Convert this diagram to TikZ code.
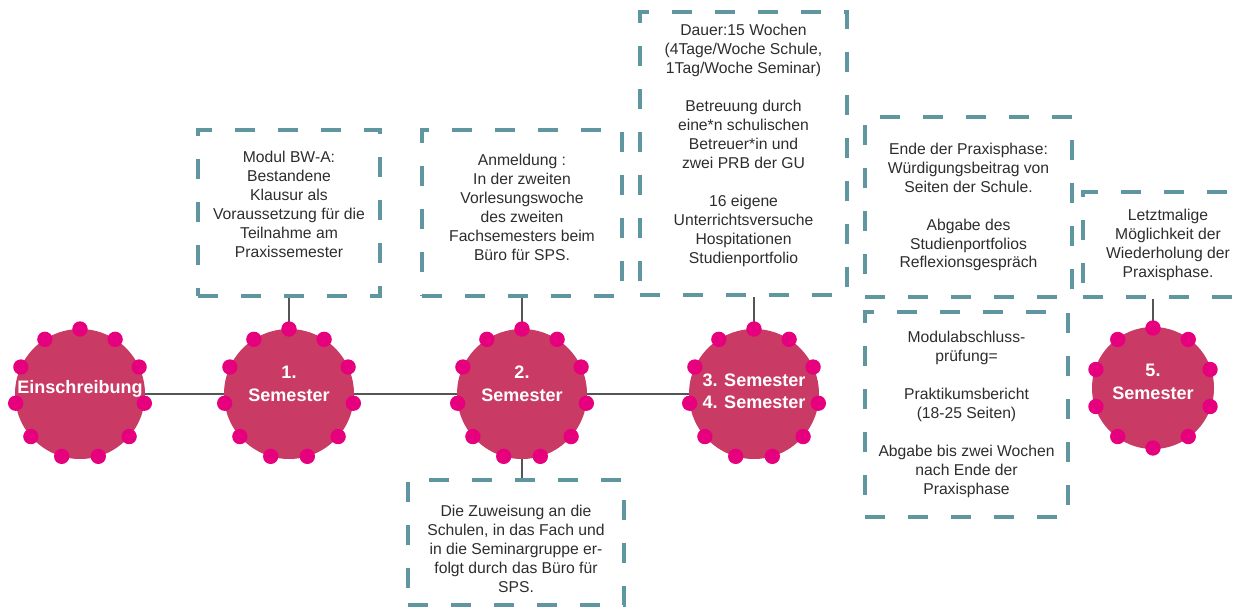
\documentclass[tikz,border=0pt]{standalone}
\usepackage{fontspec}
\setmainfont{Liberation Sans}
\usetikzlibrary{positioning}
\definecolor{semred}{RGB}{201,58,100}
\definecolor{dotpink}{RGB}{230,0,126}
\definecolor{infoteal}{RGB}{96,150,160}
\definecolor{linegray}{RGB}{85,85,85}
\definecolor{textgray}{RGB}{45,45,45}
\tikzstyle{sem} = [circle, fill=semred, minimum size=3.9cm, inner sep=0pt]
\tikzstyle{semtext} = [text=white, align=center, font=\fontsize{15.4pt}{19.6pt}\selectfont\bfseries]
\tikzstyle{info} = [rectangle, text centered, align=center, draw=infoteal, line width=3.4pt, dash pattern=on 0.6cm off 0.69cm, inner sep=0pt, text=textgray, font=\fontsize{13.4pt}{16.2pt}\selectfont]
\tikzstyle{line} = [draw=linegray, line width=2pt]

\begin{document}
\begin{tikzpicture}[node distance=2cm]
\useasboundingbox (0,0) rectangle (37.23,-18.21);

\node (c0) [sem, label={[semtext, yshift=0.15cm]center:Einschreibung}] at (2.4,-11.82) {};
\node (c1) [sem, right of=c0, xshift=4.27cm, label={[semtext, yshift=0.3cm]center:{1.\\Semester}}] {};
\node (c2) [sem, right of=c1, xshift=4.99cm, label={[semtext, yshift=0.3cm]center:{2.\\Semester}}] {};
\node (c3) [sem, right of=c2, xshift=4.96cm, label={[semtext, yshift=0.09cm, font=\fontsize{15.4pt}{18.8pt}\selectfont\bfseries]center:{3. Semester\\4. Semester}}] {};
\node (c5) [sem, minimum size=3.66cm, right of=c3, xshift=9.97cm, yshift=0.18cm, label={[semtext, yshift=0.18cm]center:{5.\\Semester}}] {};

\node (modul) [info, minimum width=5.46cm, minimum height=4.98cm, above of=c1, yshift=3.43cm] {Modul BW-A:\\Bestandene\\Klausur als\\Voraussetzung für die\\Teilnahme am\\Praxissemester\\[-0.05cm]};
\node (anmeldung) [info, minimum width=6cm, minimum height=4.98cm, above of=c2, yshift=3.43cm] {Anmeldung :\\In der zweiten\\Vorlesungswoche\\des zweiten\\Fachsemesters beim\\Büro für SPS.\\[-0.25cm]};
\node (zuweisung) [info, minimum width=6.48cm, minimum height=3.75cm, below of=c2, xshift=-0.18cm, yshift=-2.455cm] {\rule{0pt}{0.7cm}Die Zuweisung an die\\Schulen, in das Fach und\\in die Seminargruppe er-\\folgt durch das Büro für\\SPS.};
\node (dauer) [info, minimum width=6.21cm, minimum height=8.49cm, above of=c3, xshift=-0.315cm, yshift=5.215cm] {Dauer:15 Wochen\\(4Tage/Woche Schule,\\1Tag/Woche Seminar)\\[16.2pt]Betreuung durch\\eine*n schulischen\\Betreuer*in und\\zwei PRB der GU\\[16.2pt]16 eigene\\Unterrichtsversuche\\Hospitationen\\Studienportfolio\\[0pt]};
\node (ende) [info, minimum width=6.21cm, minimum height=5.4cm, right of=dauer, xshift=4.75cm, yshift=-1.605cm] {Ende der Praxisphase:\\Würdigungsbeitrag von\\Seiten der Schule.\\[16.2pt]Abgabe des\\Studienportfolios\\Reflexionsgespräch};
\node (pruefung) [info, minimum width=6.09cm, minimum height=6.15cm, below of=ende, xshift=-0.06cm, yshift=-4.225cm] {Modulabschluss-\\prüfung=\\[16.2pt]Praktikumsbericht\\(18-25 Seiten)\\[16.2pt]Abgabe bis zwei Wochen\\nach Ende der\\Praxisphase};
\node (letzt) [info, minimum width=5.1cm, minimum height=3.15cm, above of=c5, xshift=0.45cm, yshift=2.305cm] {Letztmalige\\Möglichkeit der\\Wiederholung der\\Praxisphase.};

\draw [line] (c0.east) -- (c1.west);
\draw [line] (c1.east) -- (c2.west);
\draw [line] (c2.east) -- (c3.west);
\draw [line] (c1.north) -- (c1.north |- modul.south);
\draw [line] (c2.north) -- (c2.north |- anmeldung.south);
\draw [line] (c2.south) -- (c2.south |- zuweisung.north);
\draw [line] (c3.north) -- (c3.north |- dauer.south);
\draw [line] (c5.north) -- (c5.north |- letzt.south);

% dots round the circles
\foreach \c in {c0,c1,c2,c3}
  \foreach \a in {0,...,10}
    \fill [dotpink] (\c) ++(90+\a*360/11:1.95cm) circle (0.23cm);
\foreach \a in {0,...,9}
  \fill [dotpink] (c5) ++(90+\a*36:1.8cm) circle (0.23cm);

\end{tikzpicture}
\end{document}
